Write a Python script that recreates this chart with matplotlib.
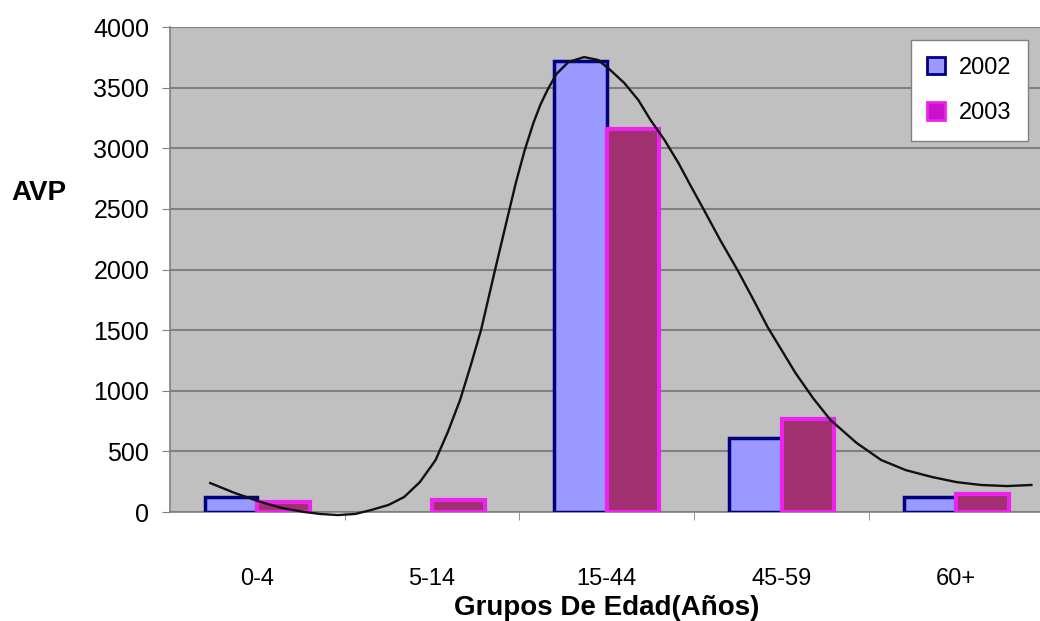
import numpy as np
import matplotlib.pyplot as plt
from matplotlib.patches import Patch

# datos
grupos = ["0-4", "5-14", "15-44", "45-59", "60+"]
avp_2002 = [120, 0, 3720, 610, 120]
avp_2003 = [80, 95, 3160, 770, 150]

# curva de tendencia (posición en categorías, valor)
curva_x = [-0.27, -0.13, 0.02, 0.14, 0.27, 0.36, 0.46, 0.56, 0.65, 0.75, 0.84,
           0.93, 1.02, 1.09, 1.16, 1.22, 1.28, 1.32, 1.36, 1.43, 1.48, 1.53,
           1.58, 1.62, 1.66, 1.71, 1.78, 1.87, 1.95, 2.02, 2.10, 2.18, 2.25,
           2.33, 2.41, 2.48, 2.56, 2.65, 2.75, 2.84, 2.92, 3.00, 3.08, 3.18,
           3.28, 3.43, 3.57, 3.71, 3.86, 4.00, 4.14, 4.29, 4.43]
curva_y = [239, 157, 82, 33, 0, -16, -25, -16, 16, 58, 124,
           247, 429, 660, 924, 1204, 1501, 1748, 1996, 2420, 2720, 2985,
           3210, 3360, 3480, 3610, 3711, 3752, 3728, 3645, 3538, 3398, 3233,
           3068, 2878, 2690, 2480, 2240, 1990, 1748, 1526, 1336, 1146, 940,
           759, 569, 429, 346, 289, 247, 223, 214, 223]

plt.rcParams['font.family'] = ['Liberation Sans', 'DejaVu Sans']

fig = plt.figure(figsize=(10.4, 6.21), dpi=100)
ax = fig.add_axes([0.1635, 0.1755, 0.84, 0.781])
ax.set_facecolor("#C0C0C0")

x = np.arange(len(grupos))
ancho = 0.3
# las barras con valor 0 no se dibujan
h2002 = [v if v > 0 else np.nan for v in avp_2002]
h2003 = [v if v > 0 else np.nan for v in avp_2003]
ax.bar(x - ancho / 2, h2002, ancho, color="#9999FF", edgecolor="#000080",
       linewidth=2.5, label="2002", zorder=3)
ax.bar(x + ancho / 2, h2003, ancho, color="#A03070", edgecolor="#EE22EE",
       linewidth=3, label="2003", zorder=3)
ax.plot(curva_x, curva_y, color="#111111", linewidth=1.7, zorder=4,
        clip_on=False, solid_joinstyle="round")

ax.set_xlim(-0.5, 4.5)
ax.set_ylim(0, 4000)
ax.set_yticks(np.arange(0, 4001, 500))
ax.yaxis.grid(True, color="#808080", linewidth=1.5, zorder=0)
ax.set_axisbelow(True)

ax.set_xticks(x)
ax.set_xticklabels(grupos)
ax.set_xticks(np.arange(0.5, 4.5, 1), minor=True)
ax.tick_params(axis="x", which="major", length=0, pad=40, labelsize=17)
ax.tick_params(axis="x", which="minor", length=6, color="#808080")
ax.tick_params(axis="y", length=6, color="#808080", labelsize=18, pad=9)

for lado in ["top", "right"]:
    ax.spines[lado].set_visible(False)
ax.spines["left"].set_color("#808080")
ax.spines["bottom"].set_color("#808080")
ax.spines["left"].set_linewidth(1.2)
ax.spines["bottom"].set_linewidth(1.2)

ax.set_xlabel("Grupos De Edad(Años)", fontsize=20, fontweight="bold", labelpad=4)
fig.text(0.011, 0.69, "AVP", fontsize=20, fontweight="bold", ha="left", va="center")

manejadores = [Patch(facecolor="#9999FF", edgecolor="#000080", linewidth=2),
               Patch(facecolor="#CC11CC", edgecolor="#EE22EE", linewidth=2)]
leg = ax.legend(manejadores, ["2002", "2003"], loc="upper right",
                bbox_to_anchor=(1028 / 1040, 1 - 40 / 621), bbox_transform=fig.transFigure,
                borderaxespad=0, fontsize=17, frameon=True, fancybox=False,
                handlelength=0.75, handleheight=0.75, labelspacing=1.0,
                borderpad=0.7, handletextpad=0.6)
leg.get_frame().set_edgecolor("#808080")
leg.get_frame().set_facecolor("white")
leg.get_frame().set_alpha(1)

fig.savefig("out.png", dpi=100)
